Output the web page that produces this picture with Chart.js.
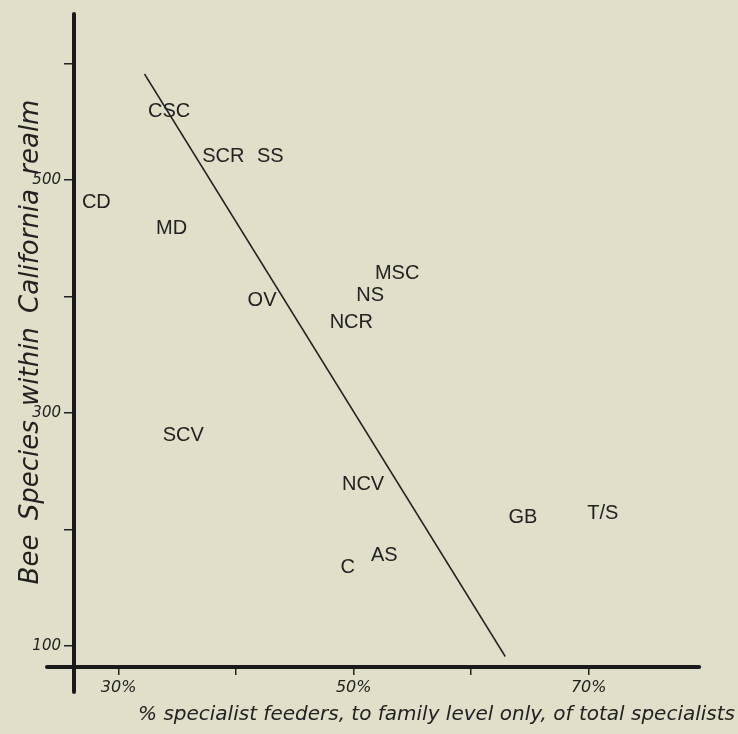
<!DOCTYPE html>
<html><head><meta charset="utf-8">
<script src="https://cdn.jsdelivr.net/npm/chart.js@4"></script>
<style>html,body{margin:0;padding:0;background:#e1dfc9;} #wrap{width:738px;height:734px;position:relative;}</style>
</head><body><div id="wrap"><canvas id="c" width="738" height="734"></canvas></div>
<script>
// ---- data ----
const regions = ['CSC','SCR','SS','CD','MD','OV','SCV','MSC','NS','NCR','NCV','GB','T/S','C','AS'];
const pctSpecialists = [34.3,38.9,42.9,28.1,34.5,42.2,35.5,53.7,51.4,49.8,50.8,64.4,71.2,49.5,52.6];
const beeSpecies = [559,520,520,481,458,397,281,420,401,378,239,210,214,167,178];
const trendX = [32.2, 62.9];
const trendY = [591, 91];
const xTickValues = [30,40,50,60,70];
const xTickLabels = ['30%','','50%','','70%'];
const yTickValues = [100,200,300,400,500,600];
const yTickLabels = ['100','','300','','500',''];
const yTitle = 'Bee Species within California realm';
const xTitle = '% specialist feeders, to family level only, of total specialists';

// hand-drawn axis extents (in data units)
const X_AXIS_FROM = 23.9, X_AXIS_TO = 79.4, X_AXIS_AT = 82;
const Y_AXIS_FROM = 60.5, Y_AXIS_TO = 642.5, Y_AXIS_AT = 26.2;

const INK = '#222';

const handDrawn = {
  id: 'handDrawn',
  afterDatasetsDraw(chart) {
    const ctx = chart.ctx, xs = chart.scales.x, ys = chart.scales.y;
    ctx.save();
    // labels at data points
    const meta = chart.getDatasetMeta(0);
    ctx.fillStyle = INK;
    ctx.font = '20px "Liberation Sans", Arial, sans-serif';
    ctx.textAlign = 'center';
    ctx.textBaseline = 'middle';
    meta.data.forEach((pt, i) => {
      ctx.fillText(regions[i], pt.x, pt.y);
    });
    // thick axes
    ctx.strokeStyle = '#1a1a1a';
    ctx.lineWidth = 4;
    ctx.lineCap = 'round';
    ctx.beginPath();
    const yAx = ys.getPixelForValue(X_AXIS_AT);
    ctx.moveTo(xs.getPixelForValue(X_AXIS_FROM), yAx);
    ctx.lineTo(xs.getPixelForValue(X_AXIS_TO), yAx);
    const xAx = xs.getPixelForValue(Y_AXIS_AT);
    ctx.moveTo(xAx, ys.getPixelForValue(Y_AXIS_TO));
    ctx.lineTo(xAx, ys.getPixelForValue(Y_AXIS_FROM));
    ctx.stroke();
    ctx.restore();

    // y axis title (rotated), with wider word gaps like the hand lettering
    ctx.save();
    ctx.translate(38, 342);
    ctx.rotate(-Math.PI / 2);
    ctx.fillStyle = INK;
    ctx.font = 'italic 26px "DejaVu Sans", sans-serif';
    ctx.textAlign = 'center';
    ctx.textBaseline = 'alphabetic';
    try { ctx.wordSpacing = '6px'; } catch (e) {}
    ctx.fillText(yTitle, 0, 0);
    ctx.restore();
  }
};

new Chart(document.getElementById('c'), {
  type: 'scatter',
  data: {
    datasets: [
      {
        label: 'Regions',
        data: regions.map((r, i) => ({x: pctSpecialists[i], y: beeSpecies[i]})),
        pointRadius: 0,
        pointHoverRadius: 0
      },
      {
        label: 'Trend',
        type: 'line',
        data: trendX.map((x, i) => ({x: x, y: trendY[i]})),
        borderColor: INK,
        borderWidth: 1.5,
        pointRadius: 0,
        fill: false,
        tension: 0
      }
    ]
  },
  options: {
    responsive: false,
    animation: false,
    devicePixelRatio: 1,
    layout: {padding: {top: 45, right: 3, left: 0, bottom: 0}},
    plugins: {legend: {display: false}, tooltip: {enabled: false}},
    scales: {
      x: {
        type: 'linear',
        min: 26.2,
        max: 82.45,
        afterBuildTicks: (scale) => { scale.ticks = xTickValues.map(v => ({value: v})); },
        afterFit: (scale) => { scale.height = 67; },
        ticks: {
          autoSkip: false,
          maxRotation: 0,
          padding: 3,
          color: INK,
          font: {family: '"DejaVu Sans", sans-serif', size: 16, style: 'italic'},
          callback: (v, i) => xTickLabels[i]
        },
        grid: {drawOnChartArea: false, drawTicks: true, tickLength: 8, color: INK, lineWidth: 1.5},
        border: {display: false},
        title: {
          display: true,
          text: xTitle,
          align: 'end',
          color: INK,
          font: {family: '"DejaVu Sans", sans-serif', size: 20, style: 'italic'},
          padding: {top: 0, bottom: 7}
        }
      },
      y: {
        type: 'linear',
        min: 82,
        max: 615.9,
        afterBuildTicks: (scale) => { scale.ticks = yTickValues.map(v => ({value: v})); },
        afterFit: (scale) => { scale.width = 74; },
        ticks: {
          autoSkip: false,
          padding: 3,
          color: INK,
          font: {family: '"DejaVu Sans", sans-serif', size: 15, style: 'italic'},
          callback: (v, i) => yTickLabels[i]
        },
        grid: {drawOnChartArea: false, drawTicks: true, tickLength: 10, color: INK, lineWidth: 1.5},
        border: {display: false},
        title: {display: false}
      }
    }
  },
  plugins: [handDrawn]
});
</script>
</body></html>
